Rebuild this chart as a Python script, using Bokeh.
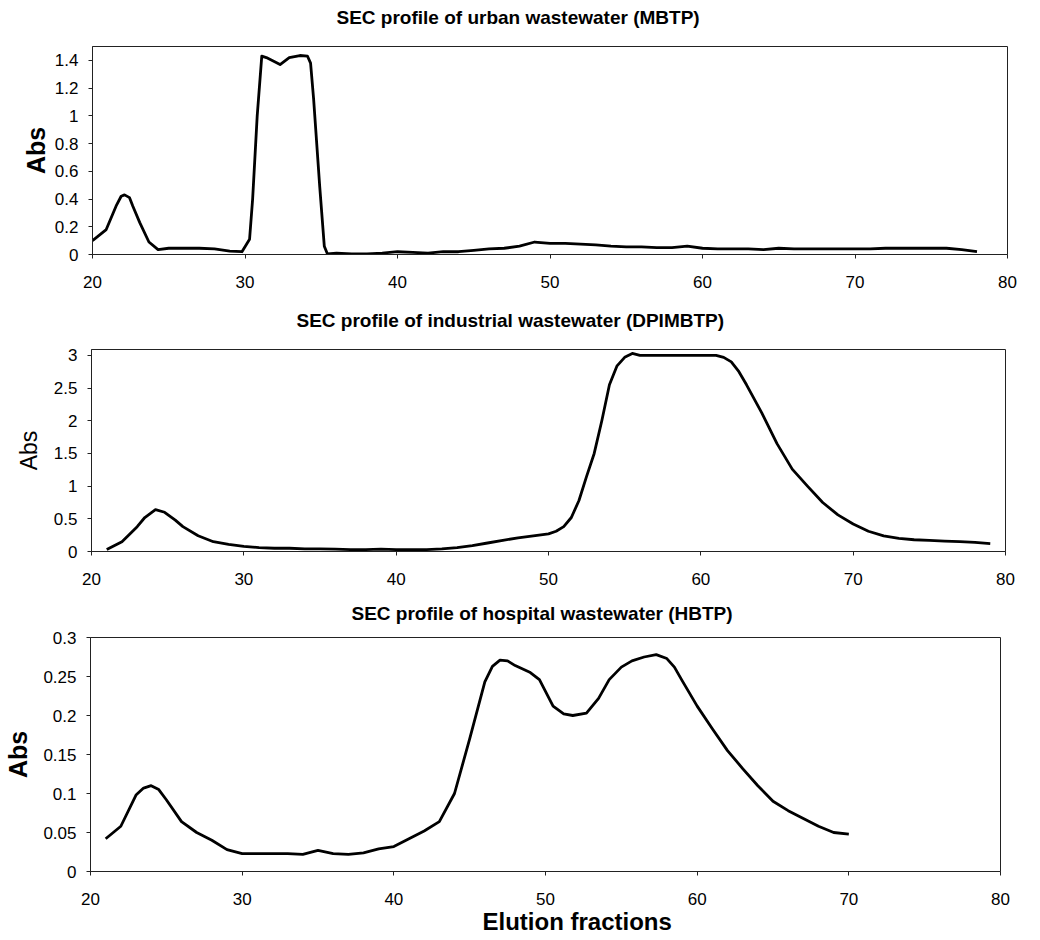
from bokeh.plotting import figure
from bokeh.layouts import column, row
from bokeh.models import Range1d, FixedTicker, PrintfTickFormatter, Title
from bokeh.embed import file_html
from bokeh.resources import INLINE

FONT = "Liberation Sans"

x_ticks = [20, 30, 40, 50, 60, 70, 80]

# Urban wastewater (MBTP)
urban_x = [20, 20.9, 21.55, 21.88, 22.1, 22.43, 22.64, 23.1, 23.7, 24.3, 25, 26, 27,
           28, 29, 29.8, 30.3, 30.5, 30.8, 31.1, 31.4, 32.3, 32.9, 33.6, 34.1, 34.3,
           34.5, 34.9, 35.2, 35.4, 36, 37, 38, 39, 40, 41, 42, 43, 44, 45, 46, 47,
           48, 49, 50, 51, 52, 53, 54, 55, 56, 57, 58, 59, 60, 61, 62, 63, 64, 65,
           66, 67, 68, 69, 70, 71, 72, 73, 74, 75, 76, 77, 78]
urban_abs = [0.10, 0.18, 0.35, 0.42, 0.43, 0.41, 0.35, 0.23, 0.09, 0.035, 0.045,
             0.045, 0.045, 0.04, 0.025, 0.02, 0.11, 0.40, 1.0, 1.43, 1.42, 1.37, 1.42,
             1.435, 1.43, 1.38, 1.12, 0.49, 0.06, 0.005, 0.01, 0.005, 0.005, 0.01,
             0.02, 0.015, 0.01, 0.02, 0.02, 0.03, 0.04, 0.045, 0.06, 0.09, 0.08, 0.08,
             0.075, 0.07, 0.06, 0.055, 0.055, 0.05, 0.05, 0.06, 0.045, 0.04, 0.04,
             0.04, 0.035, 0.045, 0.04, 0.04, 0.04, 0.04, 0.04, 0.04, 0.045, 0.045,
             0.045, 0.045, 0.045, 0.035, 0.02]
urban_ticks = [0, 0.2, 0.4, 0.6, 0.8, 1, 1.2, 1.4]

# Industrial wastewater (DPIMBTP)
ind_x = [21, 22, 23, 23.5, 24.2, 24.8, 25.5, 26, 27, 28, 29, 30, 31, 32, 33, 34, 35,
         36, 37, 38, 39, 40, 41, 42, 43, 44, 45, 46, 47, 48, 49, 50, 50.5, 51, 51.5,
         52, 52.5, 53, 53.5, 54, 54.5, 55, 55.5, 56, 57, 58, 59, 60, 61, 61.5, 62,
         62.5, 63, 64, 65, 66, 67, 68, 69, 70, 71, 72, 73, 74, 75, 76, 77, 78, 79]
ind_abs = [0.03, 0.15, 0.38, 0.52, 0.64, 0.60, 0.48, 0.38, 0.24, 0.15, 0.11, 0.08,
           0.06, 0.05, 0.05, 0.04, 0.04, 0.035, 0.03, 0.03, 0.035, 0.03, 0.03, 0.03,
           0.04, 0.06, 0.09, 0.13, 0.17, 0.21, 0.24, 0.27, 0.31, 0.38, 0.52, 0.78, 1.15,
           1.5, 2.0, 2.55, 2.84, 2.97, 3.03, 3.0, 3.0, 3.0, 3.0, 3.0, 3.0, 2.97, 2.9,
           2.75, 2.55, 2.12, 1.65, 1.26, 1.0, 0.75, 0.56, 0.42, 0.31, 0.24, 0.2, 0.18,
           0.17, 0.16, 0.15, 0.14, 0.12]
ind_ticks = [0, 0.5, 1, 1.5, 2, 2.5, 3]

# Hospital wastewater (HBTP)
hosp_x = [21, 22, 23, 23.5, 24, 24.5, 25, 26, 27, 28, 29, 30, 31, 32, 33, 34, 35, 36,
          37, 38, 39, 40, 41, 42, 43, 44, 45, 46, 46.5, 47, 47.5, 48, 49, 49.6, 50.5,
          51.2, 51.8, 52.7, 53.5, 54.2, 55, 55.7, 56.5, 57.3, 58, 58.5, 59, 60, 61,
          62, 63, 64, 65, 66, 67, 68, 69, 70]
hosp_abs = [0.042, 0.058, 0.098, 0.107, 0.11, 0.105, 0.092, 0.064, 0.05, 0.04, 0.028,
            0.023, 0.023, 0.023, 0.023, 0.022, 0.027, 0.023, 0.022, 0.024, 0.029,
            0.032, 0.042, 0.052, 0.064, 0.1, 0.17, 0.243, 0.263, 0.271, 0.27, 0.264,
            0.255, 0.246, 0.212, 0.202, 0.2, 0.203, 0.222, 0.246, 0.262, 0.27, 0.275,
            0.278, 0.273, 0.262, 0.245, 0.212, 0.183, 0.155, 0.132, 0.11, 0.09, 0.078,
            0.068, 0.058, 0.05, 0.048]
hosp_ticks = [0, 0.05, 0.1, 0.15, 0.2, 0.25, 0.3]


def panel(title, t_off, spacer, xs, ys, ymax, yticks, bold, lab_fs, lab_stand,
          height, btop, bbottom, bleft, bright, xlabel=None):
    p = figure(width=1024, height=height, output_backend="svg", toolbar_location=None,
               x_range=Range1d(20, 80), y_range=Range1d(0, ymax),
               min_border_left=bleft, min_border_right=bright,
               min_border_top=btop, min_border_bottom=bbottom)
    # spacer between frame and title
    p.add_layout(Title(text=" ", text_font_size="1px", standoff=spacer), "above")
    p.add_layout(Title(text=title, align="left", offset=t_off, standoff=4,
                       text_font=FONT, text_font_size="19px", text_font_style="bold",
                       text_color="black"), "above")
    p.line(xs, ys, line_color="black", line_width=2.8, line_join="round")
    p.xgrid.visible = False
    p.ygrid.visible = False
    p.outline_line_color = "#222222"
    p.outline_line_width = 1
    p.background_fill_color = "white"
    p.border_fill_color = "white"
    for ax in (p.xaxis[0], p.yaxis[0]):
        ax.axis_line_color = "#222222"
        ax.major_tick_line_color = "#222222"
        ax.minor_tick_line_color = None
        ax.major_tick_in = 0
        ax.major_tick_out = 4
        ax.major_label_text_font = FONT
        ax.major_label_text_font_size = "17px"
        ax.major_label_text_color = "black"
        ax.formatter = PrintfTickFormatter(format="%g")
    p.xaxis[0].ticker = FixedTicker(ticks=x_ticks)
    p.xaxis[0].major_label_standoff = 17
    p.yaxis[0].ticker = FixedTicker(ticks=yticks)
    p.yaxis[0].major_label_standoff = 10
    p.yaxis[0].axis_label = "Abs"
    p.yaxis[0].axis_label_text_font = FONT
    p.yaxis[0].axis_label_text_font_size = lab_fs
    p.yaxis[0].axis_label_text_font_style = "bold" if bold else "normal"
    p.yaxis[0].axis_label_text_color = "black"
    p.yaxis[0].axis_label_standoff = lab_stand
    if xlabel:
        p.add_layout(Title(text=xlabel, align="left", offset=392, standoff=-3,
                           text_font=FONT, text_font_size="24px",
                           text_font_style="bold", text_color="black"), "below")
    return p


p1 = panel("SEC profile of urban wastewater (MBTP)", 244, 14, urban_x, urban_abs, 1.5,
           urban_ticks, True, "25px", 2, 304, 46, 50, 92, 17)
p2 = panel("SEC profile of industrial wastewater (DPIMBTP)", 205, 14, ind_x, ind_abs,
           3.09, ind_ticks, False, "23px", 9, 293, 45, 46, 91, 19)
p3 = panel("SEC profile of hospital wastewater (HBTP)", 261, 9, hosp_x, hosp_abs, 0.3,
           hosp_ticks, True, "25px", 8, 340, 40, 66, 90, 24, xlabel="Elution fractions")

layout = column(row(p1), row(p2), row(p3), spacing=0)
open("out.html", "w").write(file_html(layout, INLINE))
